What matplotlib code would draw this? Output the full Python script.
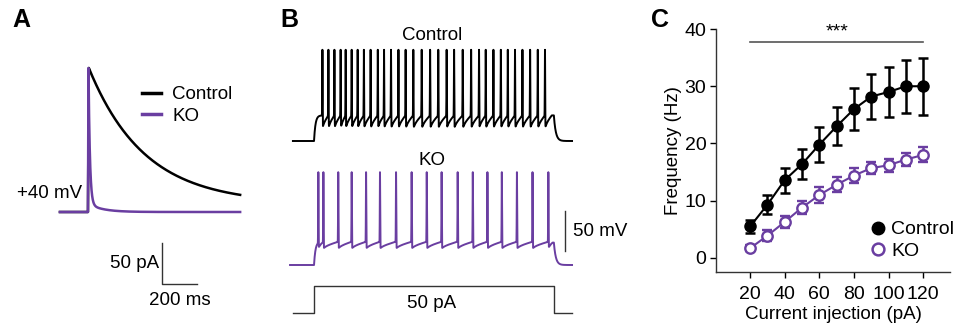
import numpy as np
import matplotlib
matplotlib.use("Agg")
from matplotlib import pyplot as plt
from matplotlib.lines import Line2D

plt.rcParams['font.family'] = ['Liberation Sans', 'DejaVu Sans']
plt.rcParams['font.size'] = 13.5

W, H = 958, 329
purple = '#6a3ea1'

# panel A: evoked currents at +40 mV (pA, ms)
event_ms = 160
ctrl_peak_pA = 176
ctrl_tau_ms = 318
ctrl_offset_pA = 10
ko_peak_pA = 176
ko_tau_ms = 8
ko_slow_pA = 10
ko_slow_tau_ms = 80

# panel B: spike times (ms) during the 50 pA step
step_ms = (0, 1000)
step_pA = 50
ctrl_spikes = [35, 60, 85, 111, 132, 157, 182, 208, 236, 266, 292, 321, 352, 382,
               414, 449, 484, 518, 553, 584, 620, 655, 688, 716, 748, 779, 808, 838,
               869, 901, 933, 963]
ko_spikes = [18, 39, 101, 157, 217, 275, 342, 407, 470, 532, 599, 662, 723, 783,
             846, 911, 977]
rest_mV = -70
ctrl_levels = dict(trough=-56, thr=-38, peak=44, end=-38)
ko_levels = dict(trough=-50, thr=-41, peak=46, end=-42)

# panel C: firing frequency
current_pA = [20, 30, 40, 50, 60, 70, 80, 90, 100, 110, 120]
ctrl_hz = [5.5, 9.3, 13.6, 16.4, 19.8, 23.0, 26.0, 28.2, 29.0, 30.0, 30.0]
ctrl_sem = [1.2, 1.7, 2.2, 2.6, 3.0, 3.3, 3.7, 4.0, 4.3, 4.6, 5.0]
ko_hz = [1.7, 3.9, 6.3, 8.8, 11.0, 12.8, 14.4, 15.7, 16.2, 17.2, 18.0]
ko_sem = [0.5, 0.9, 1.0, 1.2, 1.4, 1.3, 1.3, 1.0, 1.1, 1.2, 1.3]


def box(x0, y0, x1, y1):
    return [x0 / W, 1 - y1 / H, (x1 - x0) / W, (y1 - y0) / H]


def epsc(t, t0, peak, tau, offset=0, amp2=0, tau2=1, rise=4):
    y = np.zeros_like(t)
    r = (t >= t0) & (t < t0 + rise)
    y[r] = (t[r] - t0) / rise * peak
    d = t >= t0 + rise
    s = t[d] - t0 - rise
    y[d] = (peak - offset - amp2) * np.exp(-s / tau) + amp2 * np.exp(-s / tau2) + offset
    return y


def spike_train(t, spikes, lv, on, off):
    v = np.full_like(t, rest_mV, dtype=float)
    m = (t >= on) & (t < spikes[0])
    v[m] = rest_mV + (lv['thr'] - rest_mV) * (1 - np.exp(-(t[m] - on) / 6))
    for a, b in zip(spikes[:-1], spikes[1:]):
        m = (t >= a) & (t < b)
        f = (t[m] - a) / (b - a)
        v[m] = lv['trough'] + (lv['thr'] - lv['trough']) * f ** 0.6
    m = (t >= spikes[-1]) & (t < off)
    f = (t[m] - spikes[-1]) / (off - spikes[-1])
    v[m] = lv['trough'] + (lv['end'] - lv['trough']) * np.minimum(f * 1.3, 1) ** 0.6
    m = t >= off
    v[m] = rest_mV + (lv['end'] - rest_mV) * np.exp(-(t[m] - off) / 8)
    for s in spikes:
        g = np.exp(-((t - s) / 1.0) ** 2)
        v = v + (lv['peak'] - v) * g
    return v


fig = plt.figure(figsize=(W / 100, H / 100), dpi=100)

# ---- A
axA = fig.add_axes(box(40, 50, 260, 320))
axA.set_xlim(-114, 1143)
axA.set_ylim(-132, 198)
axA.axis('off')
tA = np.arange(0, 1030, 0.5)
axA.plot(tA, epsc(tA, event_ms, ctrl_peak_pA, ctrl_tau_ms, ctrl_offset_pA, rise=5),
         color='black', lw=1.8, label='Control')
axA.plot(tA, epsc(tA, event_ms, ko_peak_pA, ko_tau_ms, 0, ko_slow_pA, ko_slow_tau_ms, rise=3),
         color=purple, lw=1.8, label='KO')
axA.plot([582, 582, 782], [-38, -88, -88], color='#333333', lw=1, clip_on=False)
axA.text(566, -63, '50 pA', ha='right', va='center')
axA.text(682, -108, '200 ms', ha='center', va='center')
axA.text(128, 23, '+40 mV', ha='right', va='center')
axA.legend(loc='upper left', bbox_to_anchor=(142 / W, 1 - 86 / H),
           bbox_transform=fig.transFigure, frameon=False, handlelength=1.0,
           handletextpad=0.6, borderpad=0, borderaxespad=0, labelspacing=0.25)
for h in axA.get_legend().get_lines():
    h.set_linewidth(2.5)

# ---- B
tB = np.arange(-88, 1076, 0.2)
axB1 = fig.add_axes(box(285, 40, 580, 150))
axB1.set_xlim(-121, 1109)
axB1.set_ylim(-81.25, 56.25)
axB1.axis('off')
axB1.plot(tB, spike_train(tB, ctrl_spikes, ctrl_levels, *step_ms), color='black', lw=1.4)

axB2 = fig.add_axes(box(285, 160, 580, 275))
axB2.set_xlim(-121, 1109)
axB2.set_ylim(-82.5, 61.25)
axB2.axis('off')
tK = np.arange(-100, 1076, 0.2)
axB2.plot(tK, spike_train(tK, ko_spikes, ko_levels, *step_ms), color=purple, lw=1.4)
axB2.plot([1047, 1047], [-2.5, -52.5], color='#333333', lw=1, clip_on=False)
axB2.text(1078, -27.5, '50 mV', ha='left', va='center')

axB3 = fig.add_axes(box(285, 280, 580, 320))
axB3.set_xlim(-121, 1109)
axB3.set_ylim(-12.96, 61.1)
axB3.axis('off')
ti = np.array([-88, step_ms[0], step_ms[0], step_ms[1], step_ms[1], 1076])
ci = np.array([0, 0, step_pA, step_pA, 0, 0])
axB3.plot(ti, ci, color='#333333', lw=1)

fig.text(432 / W, 1 - 36 / H, 'Control', ha='center', va='center')
fig.text(432 / W, 1 - 160 / H, 'KO', ha='center', va='center')
fig.text(432 / W, 1 - 303 / H, '50 pA', ha='center', va='center')

# ---- C
axC = fig.add_axes(box(716, 29, 950, 272))
axC.errorbar(current_pA, ctrl_hz, yerr=ctrl_sem, color='black', marker='o', ms=8,
             lw=1.5, elinewidth=1.8, capsize=3.5, capthick=1.8, zorder=3)
axC.errorbar(current_pA, ko_hz, yerr=ko_sem, color=purple, marker='o', ms=7.5, mfc='white',
             mec=purple, mew=1.7, lw=1.5, elinewidth=1.8, capsize=3.5, capthick=1.8, zorder=3)
axC.set_xlim(0.3, 135.5)
axC.set_ylim(-2.45, 40)
axC.set_xticks(range(20, 121, 20))
axC.set_yticks(range(0, 41, 10))
axC.spines['top'].set_visible(False)
axC.spines['right'].set_visible(False)
for sp in ('left', 'bottom'):
    axC.spines[sp].set_linewidth(1.0)
    axC.spines[sp].set_color('#333333')
axC.tick_params(direction='out', length=4, width=1, labelsize=14)
axC.tick_params(axis='x', pad=6)
axC.tick_params(axis='y', pad=3)
axC.set_xlabel('Current injection (pA)', fontsize=13.5, labelpad=2)
axC.set_ylabel('Frequency (Hz)', fontsize=13.5, labelpad=2)
axC.plot([20, 120], [37.7, 37.7], color='#555555', lw=1.2, clip_on=False)
axC.text(70, 38.0, '***', ha='center', va='bottom', fontsize=14)
handles = [Line2D([], [], color='black', marker='o', ls='none', ms=9),
           Line2D([], [], color=purple, marker='o', ls='none', ms=8.5, mfc='white', mew=1.8)]
axC.legend(handles, ['Control', 'KO'], loc='lower right', bbox_to_anchor=(1.06, 0.01),
           frameon=False, handlelength=0.8, handletextpad=0.3, borderpad=0,
           labelspacing=0.2, fontsize=14)

fig.text(12 / W, 1 - 20 / H, 'A', fontsize=18, fontweight='bold', va='center')
fig.text(280 / W, 1 - 20 / H, 'B', fontsize=18, fontweight='bold', va='center')
fig.text(651 / W, 1 - 20 / H, 'C', fontsize=18, fontweight='bold', va='center')

fig.savefig('out.png', dpi=100)
